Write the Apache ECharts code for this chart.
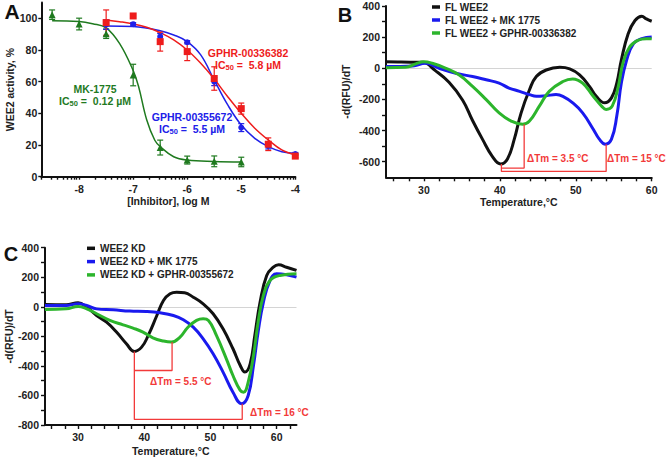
<!DOCTYPE html>
<html><head><meta charset="utf-8">
<script src="https://cdn.jsdelivr.net/npm/echarts@6/dist/echarts.min.js"></script>
<style>html,body{margin:0;padding:0;background:#fff}#c{width:666px;height:457px}</style>
</head><body><div id="c"></div>
<script>
// ---------- Panel A data ----------
const aXTicks = [-8, -7, -6, -5, -4];
const aYTicks = [0, 20, 40, 60, 80, 100];
// points: [log dose, activity %, error]
const mkPts  = [[-8.5,102.3,3],[-8,96.4,3.7],[-7.5,90.3,3],[-7,64.2,6.8],[-6.5,18.4,4.7],[-6,10.5,2.5],[-5.5,9.7,3.4],[-5,9.3,3]];
const g672Pts = [[-7.5,96,3],[-7,96.3,1],[-6.5,88.4,2],[-6,84.9,1],[-5.5,60,2.5],[-5,31,2.5],[-4.5,19.5,2],[-4,14.3,1]];
const g382Pts = [[-7.5,97.3,8],[-7,101.5,0],[-6.5,85.3,6],[-6,79,5.7],[-5.5,62,7.4],[-5,43,3.5],[-4.5,20.5,4],[-4,13,1]];
// fitted curves
const mkCurve = [[-8.5,98.4],[-8,98],[-7.75,96.6],[-7.5,94],[-7.25,84],[-7,67],[-6.9,57],[-6.75,36],[-6.6,23],[-6.5,19],[-6.25,12.6],[-6,10.5],[-5.5,9.6],[-5,9.3]];
const g672Curve = [[-7.5,95.2],[-7,94.8],[-6.5,92.2],[-6.25,89.5],[-6,85.3],[-5.75,76.9],[-5.5,61],[-5.25,45.3],[-5,32.6],[-4.75,24.2],[-4.5,19],[-4.25,15.8],[-4,14.8]];
const g382Curve = [[-7.5,99],[-7.25,97.9],[-7,96.5],[-6.75,94.4],[-6.5,91],[-6.25,86.4],[-6,80],[-5.75,71.6],[-5.5,61.7],[-5.25,50.5],[-5,40],[-4.75,30.6],[-4.5,23.2],[-4.25,16.9],[-4,13.7]];

// ---------- Panel B data ----------
const bNames = ['FL WEE2', 'FL WEE2 + MK 1775', 'FL WEE2 + GPHR-00336382'];
const bXLabels = [30, 40, 50, 60];
const bXTicks = [26,28,30,32,34,36,38,40,42,44,46,48,50,52,54,56,58,60];
const bYLabels = [-600,-400,-200,0,200,400];
const bYTicks = [-600,-500,-400,-300,-200,-100,0,100,200,300,400];
const bBlack = [[25,42],[27,40],[29.8,38],[31.5,-15],[33.3,-90],[35.1,-205],[36.4,-335],[37.7,-455],[39,-565],[40.1,-614],[41,-582],[41.9,-455],[42.8,-286],[43.9,-138],[44.8,-53],[46.1,-11],[47.9,6],[49.2,-4],[50.5,-42],[51.8,-116],[52.7,-180],[53.8,-222],[54.7,-190],[55.4,-95],[56,53],[56.9,222],[57.8,307],[58.7,334],[59.3,317],[60,302]];
const bBlue = [[25,11],[28.5,15],[30.2,32],[32,0],[34.2,-32],[36.4,-53],[38.2,-74],[39.9,-95],[41.2,-127],[42.6,-148],[43.9,-169],[44.8,-180],[46.1,-176],[47.4,-169],[48.3,-180],[49.6,-222],[50.9,-286],[52.3,-391],[53.1,-455],[53.9,-487],[54.7,-455],[55.4,-307],[56,-95],[56.7,53],[57.6,159],[58.7,190],[60,201]];
const bGreen = [[25,4],[27.6,6],[28.9,28],[30,42],[31.1,32],[32.9,0],[34.6,-42],[36.4,-116],[38.2,-201],[39.9,-286],[41.5,-339],[43,-360],[43.9,-339],[45.2,-243],[46.5,-148],[48.3,-85],[49.6,-68],[50.9,-95],[52.3,-180],[53.4,-243],[54,-264],[54.8,-243],[55.6,-116],[56.2,32],[57.1,138],[58.2,180],[59.3,190],[60,190]];
const bBracket1 = [[40.2,-614],[40.2,-662],[54,-662],[54,-487]];
const bBracket2 = [[40.2,-641],[43.2,-641],[43.2,-360]];

// ---------- Panel C data ----------
const cNames = ['WEE2 KD', 'WEE2 KD + MK 1775', 'WEE2 KD + GPHR-00355672'];
const cXLabels = [30, 40, 50, 60];
const cXTicks = [26,28,30,32,34,36,38,40,42,44,46,48,50,52,54,56,58,60,62];
const cYLabels = [-800,-600,-400,-200,0,200,400];
const cYTicks = [-800,-700,-600,-500,-400,-300,-200,-100,0,100,200,300,400];
const cBlack = [[25,16],[28.2,14],[30,27],[31.3,-2],[32.8,-59],[34.3,-104],[35.8,-171],[37.3,-250],[38.5,-302],[39.6,-273],[40.6,-194],[41.9,-59],[42.9,43],[43.9,88],[44.9,99],[46.1,95],[47.4,65],[48.9,20],[50.4,-47],[51.9,-149],[53.4,-284],[54.5,-397],[55.2,-442],[56,-386],[56.7,-194],[57.5,32],[58.5,212],[59.5,268],[60.3,284],[61.5,268],[63,246]];
const cBlue = [[25,9],[28.2,9],[30,20],[31.3,9],[32.8,-14],[35.3,-20],[37.8,-29],[40.3,-32],[42.4,-41],[44.4,-59],[45.9,-88],[47.4,-138],[48.9,-217],[50.4,-318],[51.9,-442],[53.4,-578],[54.7,-656],[55.7,-600],[56.5,-397],[57.2,-171],[58,32],[59,178],[60,223],[61.5,217],[63,201]];
const cGreen = [[25,-18],[28.2,-14],[30,2],[31.3,-14],[32.8,-47],[34.8,-92],[36.8,-122],[38.3,-144],[39.8,-171],[41.3,-210],[42.9,-232],[44.1,-239],[45.4,-205],[46.6,-138],[47.9,-92],[48.9,-81],[49.7,-92],[50.9,-194],[52.4,-352],[53.4,-465],[54.5,-566],[55,-578],[55.7,-510],[56.5,-330],[57.2,-104],[58,77],[59,178],[60.5,212],[63,223]];
const cBracket1 = [[38.5,-302],[38.5,-762],[54.8,-762],[54.8,-656]];
const cBracket2 = [[38.5,-431],[44.2,-431],[44.2,-239]];

// ---------- styling ----------
const FF = '"Liberation Sans", Arial, sans-serif';
const AX = '#111';
const lab = {fontSize: 10.5, fontWeight: 'bold', fontFamily: FF, color: '#222'};
const cA = {mk: '#1f7a1f', g672: '#2020e8', g382: '#ee1c1c'};
const cL = {black: '#111111', blue: '#1a1aee', green: '#2cb52c'};
const RED = '#f23a3a';

// log-decade ticks for panel A (majors + minors)
const aXAllTicks = [];
for (let d = -9; d <= -5; d++) for (let k = 1; k <= 9; k++) {
  const v = d + Math.log10(k);
  if (v >= -8.7 && v <= -4) aXAllTicks.push(v);
}
aXAllTicks.push(-4);

function xAx(grid, min, max, ticks, labels, tickLen, name, gap, labMargin) {
  return {type: 'value', gridIndex: grid, min, max, name, nameLocation: 'middle', nameGap: gap,
    nameTextStyle: {fontSize: 10.5, fontWeight: 'bold', fontFamily: FF, color: '#222'},
    axisLine: {show: true, onZero: false, lineStyle: {color: AX, width: 2}},
    axisTick: {show: true, customValues: ticks, length: tickLen, lineStyle: {color: AX, width: 1.4}},
    axisLabel: {show: true, customValues: labels, margin: labMargin, ...lab},
    splitLine: {show: false}};
}
const yAx = xAx;

function errSeries(pts, color) {
  return {type: 'custom', xAxisIndex: 0, yAxisIndex: 0, data: pts, encode: {x: 0, y: 1}, clip: false, z: 3,
    renderItem: function (params, api) {
      const x = api.value(0), y = api.value(1), e = api.value(2);
      if (!e) return null;
      const t = api.coord([x, y + e]), b = api.coord([x, y - e]);
      const w = 3, st = {stroke: color, lineWidth: 1.2};
      return {type: 'group', children: [
        {type: 'line', shape: {x1: t[0], y1: t[1], x2: b[0], y2: b[1]}, style: st},
        {type: 'line', shape: {x1: t[0]-w, y1: t[1], x2: t[0]+w, y2: t[1]}, style: st},
        {type: 'line', shape: {x1: b[0]-w, y1: b[1], x2: b[0]+w, y2: b[1]}, style: st}]};
    }};
}
function ptSeries(pts, color, symbol, size) {
  return {type: 'scatter', xAxisIndex: 0, yAxisIndex: 0, data: pts.map(p => [p[0], p[1]]),
    symbol, symbolSize: size, itemStyle: {color, opacity: 1}, z: 4, silent: true};
}
function curveA(pts, color) {
  return {type: 'line', xAxisIndex: 0, yAxisIndex: 0, data: pts, smooth: 0.4, showSymbol: false,
    lineStyle: {color, width: 1.5}, z: 2, silent: true};
}
function curveL(name, pts, color, xi, yi, extra) {
  return Object.assign({type: 'line', name, xAxisIndex: xi, yAxisIndex: yi, data: pts, smooth: 0.45, showSymbol: false,
    color, itemStyle: {color}, lineStyle: {color, width: 3}, silent: true, z: 3}, extra || {});
}
function bracket(pts, xi, yi) {
  return {type: 'line', xAxisIndex: xi, yAxisIndex: yi, data: pts, showSymbol: false, smooth: false,
    lineStyle: {color: RED, width: 1.3}, silent: true, z: 4};
}
const zeroLine = {silent: true, symbol: 'none', label: {show: false}, lineStyle: {color: '#d4d4d4', width: 1, type: 'solid'}, data: [{yAxis: 0}], z: 1};

const txt = (text, x, y, color, size, align) => ({type: 'text', x, y, style: {text, fill: color, fontSize: size || 10.5, fontWeight: 'bold', fontFamily: FF, align: align || 'center', verticalAlign: 'middle'}});
const ic = (text, x, y, color) => ({type: 'text', x, y, style: {text, fill: color, fontSize: 10.5, fontWeight: 'bold', fontFamily: FF, align: 'center', verticalAlign: 'middle',
  rich: {s: {fill: color, fontSize: 7.5, fontWeight: 'bold', fontFamily: FF, verticalAlign: 'bottom', padding: [5, 0, 0, 0]}}}});

const chart = echarts.init(document.getElementById('c'), null, {renderer: 'svg'});
chart.setOption({
  animation: false,
  backgroundColor: '#fff',
  grid: [
    {left: 41.3, top: 2.5, width: 254, height: 174.2},
    {left: 386, top: 6, width: 265.7, height: 171.3},
    {left: 45, top: 247.7, width: 251.5, height: 177.3}
  ],
  xAxis: [
    xAx(0, -8.7, -4, aXAllTicks, aXTicks, 3, '[Inhibitor], log M', 17, 7),
    xAx(1, 25, 60, bXTicks, bXLabels, 4, 'Temperature,°C', 18, 7),
    xAx(2, 25, 63, cXTicks, cXLabels, 4, 'Temperature,°C', 20, 6)
  ],
  yAxis: [
    yAx(0, 0, 110, aYTicks, aYTicks, 3, 'WEE2 activity, %', 18, 4),
    yAx(1, -700, 400, bYTicks, bYLabels, 4, '-d(RFU)/dT', 35, 6),
    yAx(2, -800, 400, cYTicks, cYLabels, 4, '-d(RFU)/dT', 28, 6)
  ],
  legend: [
    {data: bNames, orient: 'vertical', left: 432, top: 1, padding: 0, itemWidth: 8, itemHeight: 3.5, itemGap: 1,
      icon: 'rect', selectedMode: false, textStyle: Object.assign({}, lab, {fontSize: 10, lineHeight: 12})},
    {data: cNames, orient: 'vertical', left: 87, top: 242.3, padding: 0, itemWidth: 8, itemHeight: 3.5, itemGap: 1.3,
      icon: 'rect', selectedMode: false, textStyle: Object.assign({}, lab, {fontSize: 10, lineHeight: 12})}
  ],
  series: [
    // Panel A
    curveA(mkCurve, cA.mk), curveA(g672Curve, cA.g672), curveA(g382Curve, cA.g382),
    errSeries(mkPts, cA.mk), ptSeries(mkPts, cA.mk, 'triangle', 7),
    errSeries(g672Pts, cA.g672), ptSeries(g672Pts, cA.g672, 'circle', 6),
    errSeries(g382Pts, cA.g382), ptSeries(g382Pts, cA.g382, 'rect', 7),
    // Panel B
    curveL(bNames[0], bBlack, cL.black, 1, 1, {markLine: zeroLine}),
    curveL(bNames[1], bBlue, cL.blue, 1, 1),
    curveL(bNames[2], bGreen, cL.green, 1, 1),
    bracket(bBracket1, 1, 1), bracket(bBracket2, 1, 1),
    // Panel C
    curveL(cNames[0], cBlack, cL.black, 2, 2, {markLine: zeroLine}),
    curveL(cNames[1], cBlue, cL.blue, 2, 2),
    curveL(cNames[2], cGreen, cL.green, 2, 2),
    bracket(cBracket1, 2, 2), bracket(cBracket2, 2, 2)
  ],
  graphic: [
    txt('A', 12, 11, '#111', 21),
    txt('B', 345, 15, '#111', 20),
    txt('C', 11, 254, '#111', 20),
    txt('MK-1775', 95, 89, cA.mk),
    ic('IC{s|50} =  0.12 µM', 95, 100.5, cA.mk),
    txt('GPHR-00336382', 248, 52.7, cA.g382),
    ic('IC{s|50} =  5.8 µM', 248, 64.5, cA.g382),
    txt('GPHR-00355672', 192, 117, cA.g672),
    ic('IC{s|50} =  5.5 µM', 192, 128.7, cA.g672),
    txt('ΔTm = 3.5 °C', 527, 158.3, RED, 10, 'left'),
    txt('ΔTm = 15 °C', 607, 158.3, RED, 10, 'left'),
    txt('ΔTm = 5.5 °C', 150, 381, RED, 10, 'left'),
    txt('ΔTm = 16 °C', 250, 412.7, RED, 10, 'left')
  ]
});
</script>
</body></html>
